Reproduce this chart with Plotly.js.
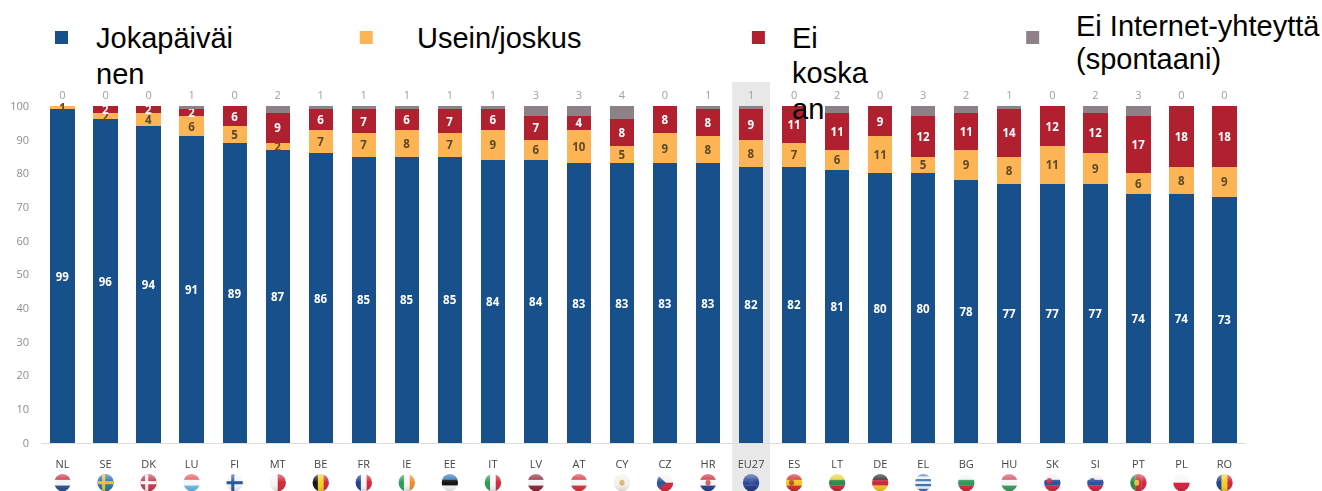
<!DOCTYPE html>
<html><head><meta charset="utf-8">
<script src="https://cdn.plot.ly/plotly-3.0.1.min.js"></script>
<style>html,body{margin:0;padding:0;background:#fff}#c{width:1322px;height:491px}
.barlayer,.xtick text,.ytick text,.scatterlayer{filter:blur(.45px)}</style></head><body><div id="c"></div>
<script>
const countries=['NL','SE','DK','LU','FI','MT','BE','FR','IE','EE','IT','LV','AT','CY','CZ','HR','EU27','ES','LT','DE','EL','BG','HU','SK','SI','PT','PL','RO'];
const daily=[99,96,94,91,89,87,86,85,85,85,84,84,83,83,83,83,82,82,81,80,80,78,77,77,77,74,74,73];
const often=[1,2,4,6,5,2,7,7,8,7,9,6,10,5,9,8,8,7,6,11,5,9,8,11,9,6,8,9];
const never=[0,2,2,2,6,9,6,7,6,7,6,7,4,8,8,8,9,11,11,9,12,11,14,12,12,17,18,18];
const noNet=[0,0,0,1,0,2,1,1,1,1,1,3,3,4,0,1,1,0,2,0,3,2,1,0,2,3,0,0];
const legendLines=[['Jokapäiväi','nen'],['Usein/joskus'],['Ei','koska','an'],['Ei Internet-yhteyttä','(spontaani)']];
const seriesNames=['Jokapäiväinen','Usein/joskus','Ei koskaan','Ei Internet-yhteyttä (spontaani)'];
const colors=['#17508a','#fdb455','#b0202e','#8b8187'];
const flags={NL:'h:#c8283a,#f4f4f4,#27508f',SE:'x:#2a72b0,#e8c428',DK:'x:#c8384a,#f6f6f6',LU:'h:#e5505a,#f6f6f6,#68b8e8',FI:'x:#f4f4f4,#27579e',MT:'v:#f6f6f6,#d0283a',BE:'v:#151515,#f5d020,#d0283a',FR:'v:#1f3f8f,#f6f6f6,#d0283a',IE:'v:#2a9a58,#f6f6f6,#ee8a30',EE:'h:#2a70b8,#111,#f4f4f4',IT:'v:#2a9a50,#f6f6f6,#d0283a',LV:'h:#8e2535,#f4f4f4,#8e2535',AT:'h:#d8303a,#f6f6f6,#d8303a',CY:'h:#f4f1e8,#f4f1e8,#f4f1e8|#d8b878',CZ:'t:#f4f4f4,#d0283a,#27579e',HR:'h:#d0283a,#f6f6f6,#23408f|#d06068',EU27:'h:#2a4698,#2a4698,#223a88|#3a50a0',ES:'h:#cf2a2a,#f4c420,#cf2a2a|#b85a20',LT:'h:#e8d030,#2a8a48,#c8283a',DE:'h:#222,#c8283a,#f4c420',EL:'h:#3a70b8,#f0f0f0,#3a70b8,#f0f0f0,#3a70b8,#f0f0f0,#3a70b8',BG:'h:#f4f4f4,#2a9a58,#d0283a',HU:'h:#d0485a,#f6f6f6,#3a9a58',SK:'h:#f0f0f0,#2a50a0,#d0283a|#d0283a',SI:'h:#f0f0f0,#2a50a0,#d0283a|#2a50a0',PT:'v:#2a8a48,#d0283a,#d0283a|#e0c040',PL:'h:#f6f6f6,#d8203a',RO:'v:#23408f,#f4d020,#d0283a'};
const legendX=[61,366,758.5,1033],legendTextX=[95,416,791,1075],legendBase=[[48,84],[48],[48,83,119],[36,69]];

const L=40.5,R=1246.5,T=82,B=443,W=1322,H=491;
const px=x=>(x-L)/(R-L),py=y=>(B-y)/(B-T);
function flagSvg(s){
 const [f,em]=s.split('|');
 const [k,c]=f.split(':');const a=c.split(',');let b='';
 if(k=='h')a.forEach((v,i)=>b+=`<rect x="0" y="${i*20/a.length}" width="20" height="${20/a.length+.2}" fill="${v}"/>`);
 if(k=='v')a.forEach((v,i)=>b+=`<rect x="${i*20/a.length}" y="0" width="${20/a.length+.2}" height="20" fill="${v}"/>`);
 if(k=='x')b=`<rect width="20" height="20" fill="${a[0]}"/><rect x="6" width="3.6" height="20" fill="${a[1]}"/><rect y="8.2" width="20" height="3.6" fill="${a[1]}"/>`;
 if(k=='t')b=`<rect width="20" height="10" fill="${a[0]}"/><rect y="10" width="20" height="10" fill="${a[1]}"/><path d="M0 0L11 10L0 20Z" fill="${a[2]}"/>`;
 if(em)b+=`<ellipse cx="${k=='v'?8:(s.startsWith('h:#f0f0f0')?6.5:(s.startsWith('h:#cf')?7:10))}" cy="${s.startsWith('h:#f0f0f0')?8:10}" rx="3" ry="3.4" fill="${em}"/>`;
 const svg=`<svg xmlns="http://www.w3.org/2000/svg" width="40" height="40" viewBox="-1 -1 22 22"><defs><clipPath id="c"><ellipse cx="10" cy="10" rx="9.5" ry="10"/></clipPath><linearGradient id="g" x1="0" y1="0" x2="0" y2="1"><stop offset="0" stop-color="#fff" stop-opacity=".45"/><stop offset=".5" stop-color="#fff" stop-opacity="0"/><stop offset="1" stop-color="#000" stop-opacity=".15"/></linearGradient><filter id="b" x="-10%" y="-10%" width="120%" height="120%"><feGaussianBlur stdDeviation=".6"/></filter></defs><g filter="url(#b)"><g clip-path="url(#c)">${b}<rect width="20" height="20" fill="url(#g)"/></g></g></svg>`;
 return 'data:image/svg+xml;charset=utf-8,'+encodeURIComponent(svg);
}
const lab=a=>a.map(v=>v===0?'':String(v));
const bar=(y,i,tc)=>({type:'bar',name:seriesNames[i],x:countries,y:y,marker:{color:colors[i],line:{width:0}},text:lab(y),textposition:'inside',insidetextanchor:'middle',textangle:0,constraintext:'none',cliponaxis:false,textfont:{family:'Open Sans, Noto Sans, sans-serif',size:11.5,color:tc,weight:700},hoverinfo:'x+y'});
const data=[bar(daily,0,'#fff'),bar(often,1,'#5d4a25'),bar(never,2,'#fff'),
 {type:'bar',name:seriesNames[3],x:countries,y:noNet,marker:{color:colors[3],line:{width:0}},hoverinfo:'x+y'},
 {type:'scatter',mode:'text',x:countries,y:countries.map(()=>103),text:noNet.map(String),textposition:'middle center',textfont:{family:'Open Sans, Noto Sans, sans-serif',size:11,color:'#a0a0a0'},cliponaxis:false,showlegend:false,hoverinfo:'skip'}];
const ann=[],shapes=[];
legendLines.forEach((lines,i)=>{
 lines.forEach((t,j)=>ann.push({xref:'paper',yref:'paper',x:px(legendTextX[i]),y:py(legendBase[i][j]-10),xanchor:'left',yanchor:'middle',text:t,showarrow:false,borderpad:0,align:'left',font:{family:'Liberation Sans, Arial, sans-serif',size:29,color:'#000'}}));
 shapes.push({type:'rect',xref:'paper',yref:'paper',x0:px(legendX[i]-6.5),x1:px(legendX[i]+6.5),y0:py(44),y1:py(31),fillcolor:colors[i],line:{width:0},layer:'above'});
});
shapes.unshift({type:'rect',xref:'x',yref:'paper',x0:15.56,x1:16.44,y0:py(491),y1:py(82),fillcolor:'#e8e8e8',line:{width:0},layer:'below'});
const images=countries.map(c=>({source:flagSvg(flags[c]),xref:'x',yref:'paper',x:c,y:py(482.7),sizex:19/43.07,sizey:19/(B-T),xanchor:'center',yanchor:'middle',sizing:'stretch',layer:'above'}));
const layout={width:W,height:H,margin:{l:L,r:W-R,t:T,b:H-B,pad:0},barmode:'stack',bargap:0.435,showlegend:false,paper_bgcolor:'#fff',plot_bgcolor:'rgba(0,0,0,0)',
 xaxis:{type:'category',categoryorder:'array',categoryarray:countries,range:[-0.5,27.5],tickfont:{family:'Open Sans, Noto Sans, sans-serif',size:11,color:'#444'},ticks:'',ticklabelstandoff:11,showline:true,linecolor:'#e3dcd6',linewidth:1,showgrid:false,zeroline:false,automargin:false,tickangle:0},
 yaxis:{range:[0,(B-T)/3.37],tickvals:[0,10,20,30,40,50,60,70,80,90,100],tickfont:{family:'Open Sans, Noto Sans, sans-serif',size:11,color:'#8c8c8c'},ticks:'',ticklabelstandoff:11,showgrid:false,zeroline:false,showline:false,automargin:false},
 annotations:ann,shapes:shapes,images:images};
Plotly.newPlot('c',data,layout,{displayModeBar:false,responsive:false});
</script></body></html>
